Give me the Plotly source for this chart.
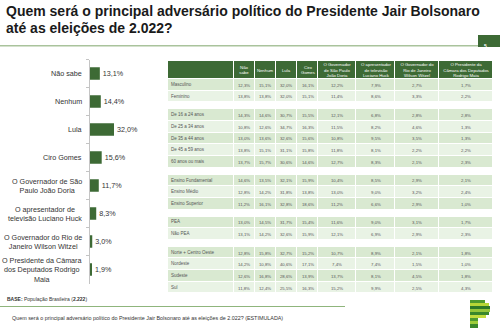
import plotly.graph_objects as go

# ---------------- data ----------------
categories = ["Não sabe", "Nenhum", "Lula", "Ciro Gomes",
              "O Governador de São<br>Paulo João Doria",
              "O apresentador de<br>televisão Luciano Huck",
              "O Governador do Rio de<br>Janeiro Wilson Witzel",
              "O Presidente da Câmara<br>dos Deputados Rodrigo<br>Maia"]
totals = [13.1, 14.4, 32.0, 15.6, 11.7, 8.3, 3.0, 1.9]

table_columns = ["Não<br>sabe", "Nenhum", "Lula", "Ciro<br>Gomes",
                 "O Governador<br>de São Paulo<br>João Doria",
                 "O apresentador<br>de televisão<br>Luciano Huck",
                 "O Governador do<br>Rio de Janeiro<br>Wilson Witzel",
                 "O Presidente da<br>Câmara dos Deputados<br>Rodrigo Maia"]

sexo_labels = ["Masculino", "Feminino"]
masculino = [12.3, 15.1, 32.0, 16.1, 12.2, 7.9, 2.7, 1.7]
feminino = [13.8, 13.8, 32.0, 15.1, 11.4, 8.6, 3.3, 2.2]

idade_labels = ["De 16 a 24 anos", "De 25 a 34 anos", "De 35 a 44 anos",
                "De 45 a 59 anos", "60 anos ou mais"]
idade_16_24 = [14.3, 14.6, 30.7, 15.5, 12.1, 6.8, 2.8, 2.8]
idade_25_34 = [10.8, 12.6, 34.7, 16.3, 11.5, 8.2, 4.6, 1.3]
idade_35_44 = [13.0, 13.6, 32.6, 15.6, 10.8, 9.5, 3.5, 1.3]
idade_45_59 = [13.8, 15.1, 31.1, 15.8, 11.8, 8.1, 2.2, 2.2]
idade_60_mais = [13.7, 15.7, 30.6, 14.6, 12.7, 8.3, 2.1, 2.3]

ensino_labels = ["Ensino Fundamental", "Ensino Médio", "Ensino Superior"]
ens_fundamental = [14.6, 13.5, 32.1, 15.9, 10.4, 8.5, 2.9, 2.1]
ens_medio = [12.8, 14.2, 31.8, 13.8, 13.0, 9.0, 3.2, 2.4]
ens_superior = [11.2, 16.1, 32.8, 18.6, 11.2, 6.6, 2.9, 1.0]

pea_labels = ["PEA", "Não PEA"]
pea = [13.0, 14.5, 31.7, 15.4, 11.6, 9.0, 3.1, 1.7]
nao_pea = [13.1, 14.2, 32.6, 15.9, 12.1, 6.9, 2.9, 2.3]

regiao_labels = ["Norte + Centro Oeste", "Nordeste", "Sudeste", "Sul"]
norte_co = [12.8, 15.8, 32.7, 15.2, 10.7, 8.9, 2.1, 1.8]
nordeste = [14.2, 10.8, 40.6, 17.1, 7.4, 7.4, 1.5, 1.0]
sudeste = [12.6, 16.8, 28.6, 13.9, 13.7, 8.1, 4.5, 1.8]
sul = [11.8, 12.4, 25.5, 16.3, 15.2, 9.9, 2.5, 4.3]

groups = [
    (sexo_labels, [masculino, feminino]),
    (idade_labels, [idade_16_24, idade_25_34, idade_35_44, idade_45_59, idade_60_mais]),
    (ensino_labels, [ens_fundamental, ens_medio, ens_superior]),
    (pea_labels, [pea, nao_pea]),
    (regiao_labels, [norte_co, nordeste, sudeste, sul]),
]

# ---------------- layout constants ----------------
W, H = 500, 330
FONT = "Liberation Sans, Arial, sans-serif"
GREEN = "#3d6a35"
ROW_A = "#d9e9d1"
ROW_B = "#e9f3e5"


def px(x):
    return x / W


def py(y):
    return 1 - y / H


fig = go.Figure()

# ---------------- bar chart ----------------
fig.add_trace(go.Bar(
    x=totals, y=categories, orientation="h",
    marker=dict(color=GREEN, line=dict(width=0)),
    width=0.45,
    texttemplate="%{x:.1f}%", textposition="outside",
    textfont=dict(size=7.2, color="#333333", family=FONT),
    cliponaxis=False, hoverinfo="skip",
    xaxis="x", yaxis="y",
))

for cat in categories:
    fig.add_annotation(
        x=px(84), xref="paper", y=cat, yref="y",
        text=cat, showarrow=False, xanchor="right", yanchor="middle",
        align="center", font=dict(size=7.2, color="#333333", family=FONT),
    )

# ---------------- table (heatmap cells) ----------------
col_widths = [65.5, 21, 21, 21.5, 21, 38, 39, 44, 54]
table_left = 168
x_edges = [table_left]
for w in col_widths:
    x_edges.append(x_edges[-1] + w)

head_top, head_bottom = 61, 79
row_h, gap_h = 11.65, 7


def fmt(v):
    return f"{v:.1f}%".replace(".", ",")


y_edges = [head_bottom]
z_rows, txt_rows = [], []
label_y, label_txt = [], []
for gi, (labels, rows) in enumerate(groups):
    if gi > 0:
        y_edges.append(y_edges[-1] + gap_h)
        z_rows.append([None] * len(col_widths))
        txt_rows.append([""] * len(col_widths))
    for ri, (lab, vals) in enumerate(zip(labels, rows)):
        top = y_edges[-1]
        y_edges.append(top + row_h)
        z_rows.append([ri % 2] * len(col_widths))
        txt_rows.append([""] + [fmt(v) for v in vals])
        label_y.append(top + row_h / 2)
        label_txt.append(lab)

fig.add_trace(go.Heatmap(
    x=x_edges, y=y_edges, z=z_rows, text=txt_rows, texttemplate="%{text}",
    textfont=dict(size=4.3, color="#555555", family=FONT),
    colorscale=[[0, ROW_A], [0.5, ROW_A], [0.5, ROW_B], [1, ROW_B]],
    zmin=0, zmax=1, showscale=False, xgap=1, ygap=1, hoverinfo="skip",
    xaxis="x2", yaxis="y2",
))

fig.add_trace(go.Heatmap(
    x=x_edges, y=[head_top, head_bottom], z=[[1] * len(col_widths)],
    text=[[""] + table_columns], texttemplate="%{text}",
    textfont=dict(size=4.3, color="white", family=FONT),
    colorscale=[[0, GREEN], [1, GREEN]], showscale=False,
    xgap=1, ygap=1, hoverinfo="skip", xaxis="x2", yaxis="y2",
))

fig.add_trace(go.Scatter(
    x=[table_left + 3] * len(label_y), y=label_y, text=label_txt,
    mode="text", textposition="middle right",
    textfont=dict(size=4.5, color="#555555", family=FONT),
    hoverinfo="skip", xaxis="x2", yaxis="y2", cliponaxis=False,
))

# ---------------- axes ----------------
fig.update_layout(
    width=W, height=H, margin=dict(l=0, r=0, t=0, b=0),
    paper_bgcolor="white", plot_bgcolor="rgba(0,0,0,0)",
    showlegend=False, separators=",.",
    font=dict(family=FONT, color="#333333"),
    xaxis=dict(domain=[px(90), px(170)], range=[0, 80 / 0.75], visible=False,
               fixedrange=True),
    yaxis=dict(domain=[py(283.5), py(59.5)], type="category",
               range=[len(categories) - 0.5, -0.5],
               showline=True, linecolor="#c4c4c4", linewidth=1,
               ticks="outside", tickson="boundaries", ticklen=3,
               tickcolor="#c4c4c4", showticklabels=False,
               showgrid=False, zeroline=False, fixedrange=True),
    xaxis2=dict(domain=[0, 1], range=[0, W], visible=False, anchor="y2",
                fixedrange=True),
    yaxis2=dict(domain=[0, 1], range=[H, 0], visible=False, anchor="x2",
                fixedrange=True),
)

# ---------------- title, footer, decorations ----------------
fig.add_annotation(x=px(4), y=py(11), xref="paper", yref="paper",
                   text="<b>Quem será o principal adversário político do Presidente Jair Bolsonaro</b>",
                   showarrow=False, xanchor="left", yanchor="middle",
                   font=dict(size=14, color="#1a1a1a", family=FONT))
fig.add_annotation(x=px(4), y=py(27.7), xref="paper", yref="paper",
                   text="<b>até as eleições de 2.022?</b>",
                   showarrow=False, xanchor="left", yanchor="middle",
                   font=dict(size=14, color="#1a1a1a", family=FONT))

fig.add_shape(type="line", xref="paper", yref="paper",
              x0=0, x1=px(478), y0=py(45.8), y1=py(45.8),
              line=dict(color="#a9c39c", width=1.5))
fig.add_shape(type="rect", xref="paper", yref="paper",
              x0=px(478), x1=1, y0=py(47), y1=py(35),
              fillcolor=GREEN, line=dict(width=0))
fig.add_annotation(x=px(489), y=py(41), xref="paper", yref="paper",
                   text="<b>5</b>", showarrow=False,
                   font=dict(size=5, color="white", family=FONT))

fig.add_annotation(x=px(5), y=py(299), xref="paper", yref="paper",
                   text="<b>BASE:</b> População Brasileira (<b>2.222</b>)",
                   showarrow=False, xanchor="left", yanchor="middle",
                   font=dict(size=5, color="#333333", family=FONT))
fig.add_shape(type="line", xref="paper", yref="paper",
              x0=0, x1=px(345), y0=py(306.5), y1=py(306.5),
              line=dict(color="#8fb57c", width=1))
fig.add_annotation(x=px(10), y=py(318), xref="paper", yref="paper",
                   text="Quem será o principal adversário político do Presidente Jair Bolsonaro até as eleições de 2.022? (ESTIMULADA)",
                   showarrow=False, xanchor="left", yanchor="middle",
                   font=dict(size=5.4, color="#333333", family=FONT))

# logo (striped "P")
logo_stripes = [
    (300, 303, 485, "#4f9a2e"), (303, 306, 489, "#b7d636"),
    (306, 309, 490, "#2e7a28"), (309, 312, 490, "#94c63a"),
    (312, 315, 489, "#3a872b"), (315, 318, 486, "#c2dc3d"),
    (318, 321, 478, "#4d9a30"), (321, 324, 478, "#9ccc3a"),
    (324, 328, 478, "#3a872b"),
]
for y0, y1, x1, c in logo_stripes:
    fig.add_shape(type="rect", xref="paper", yref="paper",
                  x0=px(470), x1=px(x1), y0=py(y1), y1=py(y0),
                  fillcolor=c, line=dict(width=0))

fig.write_html("out.html")
